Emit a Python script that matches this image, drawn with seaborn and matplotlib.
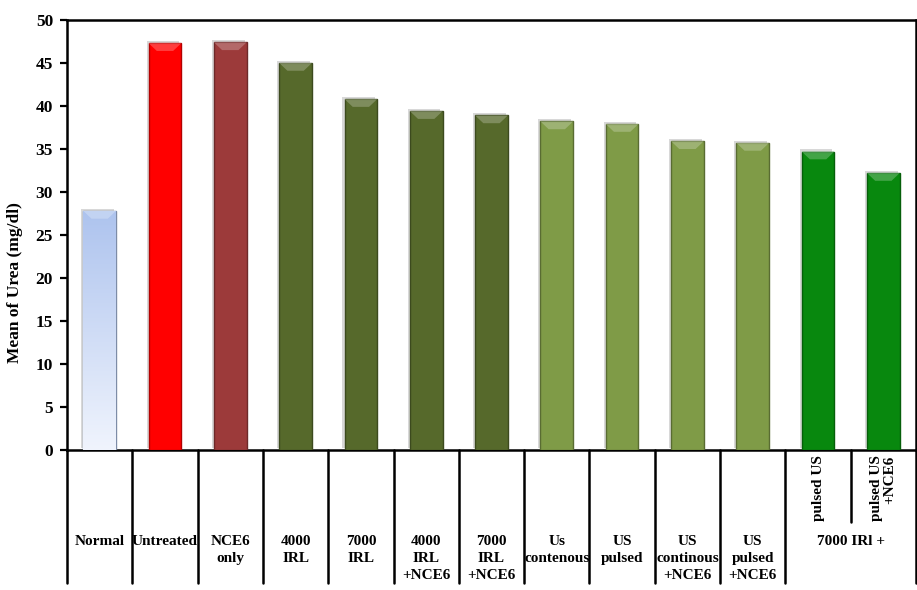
import numpy as np
import pandas as pd
import seaborn as sns
import matplotlib.pyplot as plt
import matplotlib.patheffects as pe
from matplotlib.colors import to_rgb, LinearSegmentedColormap
from matplotlib.patches import Polygon
from matplotlib.transforms import blended_transform_factory

# data
groups = ["Normal", "Untreated", "NCE6\nonly", "4000\nIRL", "7000\nIRL",
          "4000\nIRL\n+NCE6", "7000\nIRL\n+NCE6", "Us\ncontenous", "US\npulsed",
          "US\ncontinous\n+NCE6", "US\npulsed\n+NCE6", "pulsed US", "pulsed US\n+NCE6"]
urea = [27.8, 47.3, 47.4, 45.0, 40.8, 39.4, 38.9, 38.2, 37.9, 35.9, 35.7, 34.7, 32.2]
bar_colors = ["#b3c8ee", "#ff0000", "#9c3a3a", "#56692b", "#56692b", "#56692b", "#56692b",
              "#7f9b47", "#7f9b47", "#7f9b47", "#7f9b47", "#08880e", "#08880e"]
rotated_groups = ["pulsed US", "pulsed US\n+NCE6"]
span_label = "7000 IRl +"

df = pd.DataFrame({"group": groups, "urea": urea})

sns.set_style("white")
plt.rcParams["font.family"] = ["Liberation Serif", "DejaVu Serif"]
plt.rcParams["font.weight"] = "bold"
for k in ["text.color", "axes.labelcolor", "xtick.color", "ytick.color"]:
    plt.rcParams[k] = "black"

fig = plt.figure(figsize=(9.17, 5.9), dpi=100)
ax = fig.add_axes([67 / 917, 140 / 590, 849 / 917, 430 / 590])

sns.barplot(data=df, x="group", y="urea", hue="group", palette=bar_colors,
            legend=False, width=0.5, saturation=1, ax=ax, zorder=3)

ax.set_ylim(0, 50)
ax.set_xlim(-0.5, len(groups) - 0.5)
ax.set_yticks(range(0, 51, 5))
ax.tick_params(axis="y", direction="out", length=5, width=1.6, labelsize=12.5, pad=5,
               left=True, colors="black")
ax.set_xticks([])
ax.set_xlabel("")
for s in ax.spines.values():
    s.set_linewidth(1.8)
    s.set_color("black")
ax.set_ylabel("Mean of Urea (mg/dl)", fontsize=12.5, fontweight="bold", color="black")
ax.yaxis.set_label_coords(-0.052, 0.39)

# 3d-ish look: soft shadow, darker edge, lighter bevel at the top
for p, c in zip(ax.patches, bar_colors):
    p.set_path_effects([pe.SimplePatchShadow(offset=(-1.5, 1.5), shadow_rgbFace="grey", alpha=0.3),
                        pe.Normal()])
    dark = tuple(v * 0.7 for v in to_rgb(c))
    p.set_edgecolor(dark)
    p.set_linewidth(1.0)
    x0, w, h = p.get_x(), p.get_width(), p.get_height()
    light = tuple(min(1, v * 0.6 + 0.4) for v in to_rgb(c))
    d = 0.9
    ax.add_patch(Polygon([(x0, h), (x0 + w, h), (x0 + w * 0.75, h - d), (x0 + w * 0.25, h - d)],
                         closed=True, facecolor=light, edgecolor="none", alpha=0.6, zorder=4))

# gradient on the Normal bar
normal = ax.patches[0]
grad = np.linspace(0, 1, 256).reshape(-1, 1)
cmap = LinearSegmentedColormap.from_list("nb", ["#f0f4fd", "#adc3ee"])
im = ax.imshow(grad, cmap=cmap, aspect="auto", origin="lower", zorder=3.5,
               extent=[normal.get_x(), normal.get_x() + normal.get_width(), 0, normal.get_height()])
im.set_clip_path(normal)
ax.set_xlim(-0.5, len(groups) - 0.5)
ax.set_ylim(0, 50)

# category table under the axis
tr = blended_transform_factory(ax.transData, ax.transAxes)
table_bottom = -0.31
for i in range(len(groups) + 1):
    xb = i - 0.5
    yb = -0.167 if xb == len(groups) - 1.5 else table_bottom
    ax.plot([xb, xb], [0, yb], color="black", lw=1.8, transform=tr, clip_on=False)

for i, g in enumerate(groups):
    if g in rotated_groups:
        ax.text(i, -0.012, g, transform=tr, rotation=90, ha="center", va="top",
                multialignment="right", fontsize=11, fontweight="bold", linespacing=1.0)
    else:
        ax.text(i, -0.197, g, transform=tr, ha="center", va="top",
                fontsize=11, fontweight="bold", linespacing=1.4)
ax.text(len(groups) - 1.5, -0.197, span_label, transform=tr, ha="center", va="top",
        fontsize=11, fontweight="bold")

fig.savefig("out.png", dpi=100)
